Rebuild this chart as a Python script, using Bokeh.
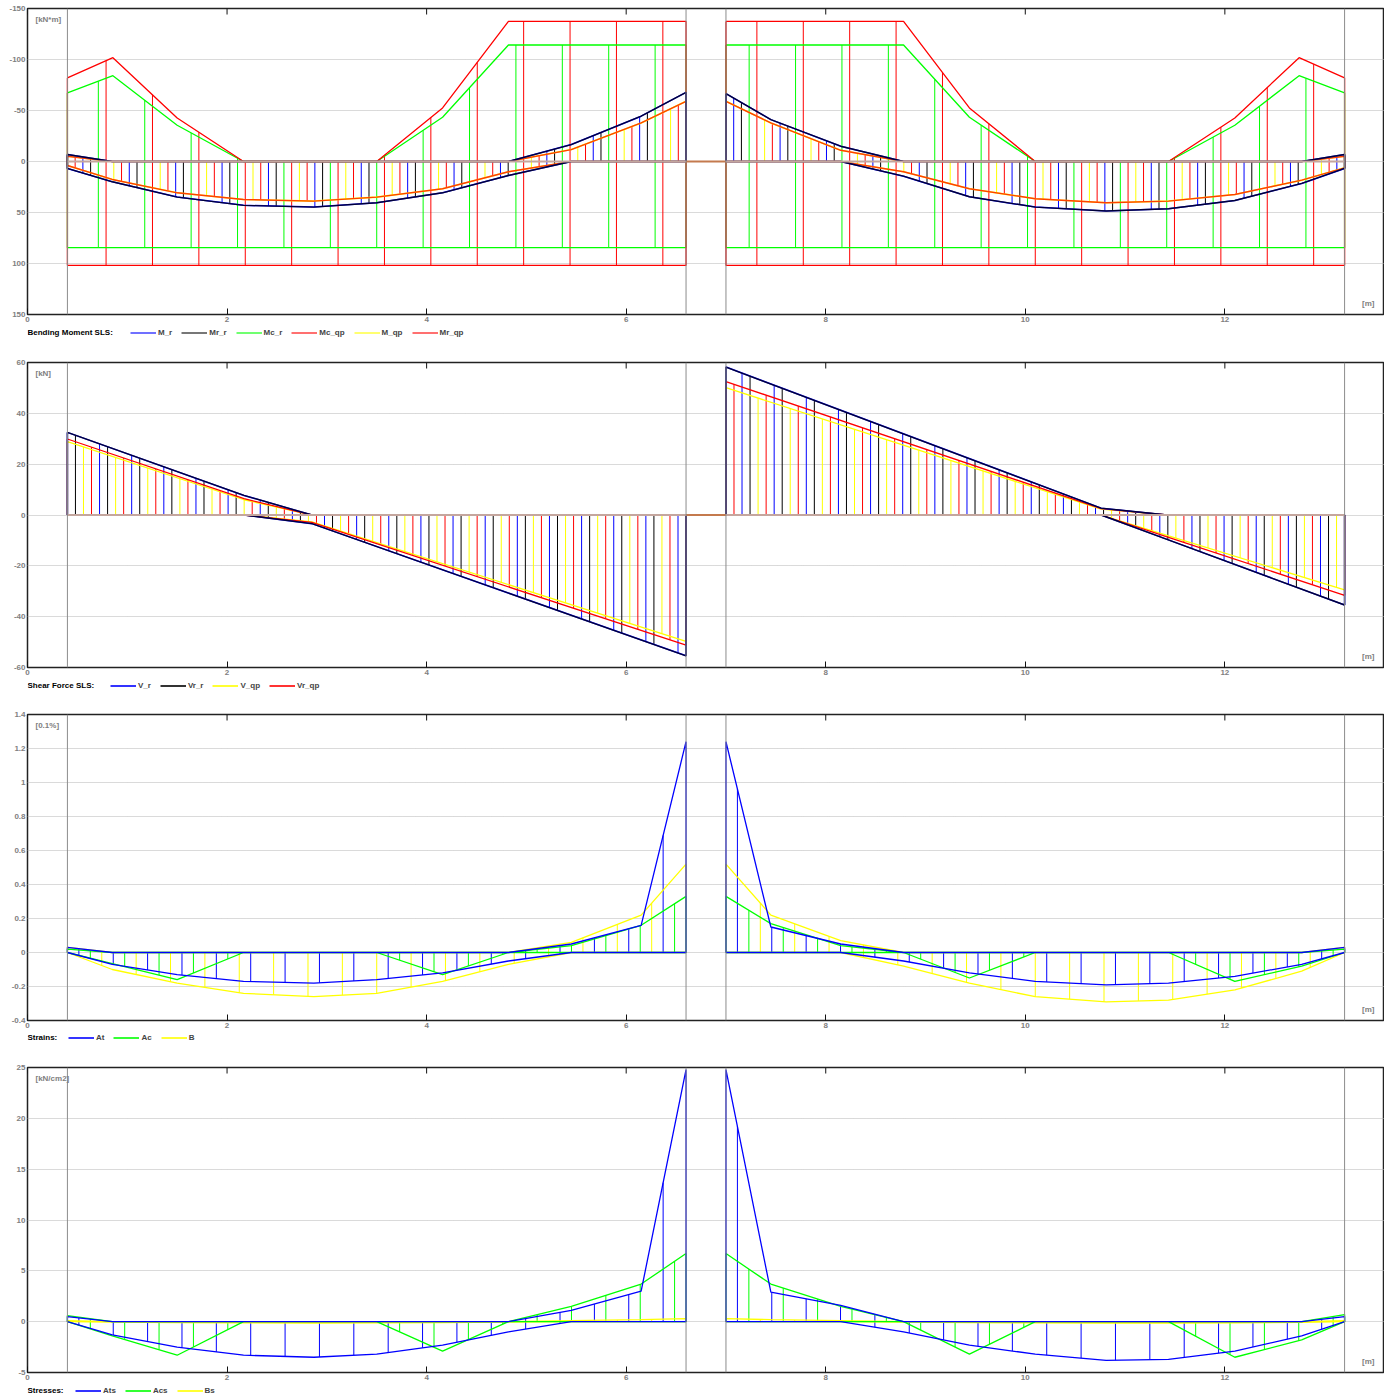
import numpy as np
from bokeh.plotting import figure
from bokeh.models import Range1d, FixedTicker, Legend, LegendItem, Label, Span
from bokeh.layouts import column
from bokeh.embed import file_html
from bokeh.resources import INLINE

FONT = "Liberation Sans"
X_TICKS = [0, 2, 4, 6, 8, 10, 12]
X_TICK_LABELS = ["0", "2", "4", "6", "8", "10", "12"]
SUPPORTS = [0.4, 6.6, 7.0, 13.2]

# ---------------- Panel 1 : bending moment [kN*m] ----------------
M_X1 = [0.4, 0.85, 1.5, 2.165, 2.87, 3.5, 4.16, 4.82, 5.45, 6.15, 6.6]
M_X2 = [7.0, 7.45, 8.15, 8.78, 9.44, 10.1, 10.81, 11.435, 12.1, 12.77, 13.2]
MR_R_MIN1 = [-6.8, 0, 0, 0, 0, 0, 0, 0, -16.6, -44.4, -67.8]
MR_R_MAX1 = [6.8, 19.9, 34.9, 43.0, 44.7, 40.4, 30.7, 13.7, 0, 0, 0]
MR_R_MIN2 = [-66.5, -41.1, -15.0, 0, 0, 0, 0, 0, 0, 0, -6.8]
MR_R_MAX2 = [0, 0, 0, 14.4, 34.6, 44.7, 48.6, 46.3, 38.2, 21.5, 6.8]
MR_QP_MIN1 = [-5.2, 0, 0, 0, 0, 0, 0, 0, -11.7, -37.8, -59.0]
MR_QP_MAX1 = [3.9, 17.6, 30.7, 37.2, 38.8, 34.9, 26.7, 10.1, 0, 0, 0]
MR_QP_MIN2 = [-59.0, -37.8, -11.0, 0, 0, 0, 0, 0, 0, 0, -5.2]
MR_QP_MAX2 = [0, 0, 0, 10.1, 26.7, 36.5, 40.4, 38.8, 32.3, 18.3, 6.2]
MC_X1 = [0.4, 0.856, 1.5, 2.165, 3.5, 4.16, 4.82, 6.6]
MC_X2 = [7.0, 8.78, 9.44, 10.1, 11.435, 12.1, 12.744, 13.2]
MC_R_NEG1 = [-67.2, -84.1, -35.5, 0, 0, -43.4, -114.2, -114.2]
MC_R_NEG2 = [-114.2, -114.2, -43.4, 0, 0, -35.5, -84.1, -67.2]
MC_R_POS = [84.5, 84.5, 84.5, 84.5, 84.5, 84.5, 84.5, 84.5]
MC_QP_NEG1 = [-81.9, -101.8, -42.7, 0, 0, -52.5, -137.3, -137.3]
MC_QP_NEG2 = [-137.3, -137.3, -52.5, 0, 0, -42.7, -101.8, -81.9]
MC_QP_POS = [101.8, 101.8, 101.8, 101.8, 101.8, 101.8, 101.8, 101.8]
M_YTICKS = [-150, -100, -50, 0, 50, 100, 150]
M_YLABELS = ["-150", "-100", "-50", "0", "50", "100", "150"]

# ---------------- Panel 2 : shear force [kN] ----------------
V_X1 = [0.4, 2.17, 2.85, 6.6]
V_X2 = [7.0, 10.76, 11.42, 13.2]
VR_R_POS1 = [32.5, 7.7, 0, 0]
VR_R_NEG1 = [0, 0, -3.4, -55.4]
VR_R_POS2 = [58.2, 2.7, 0, 0]
VR_R_NEG2 = [0, 0, -9.6, -35.4]
VR_QP_POS1 = [29.9, 6.4, 0, 0]
VR_QP_NEG1 = [0, 0, -2.9, -51.2]
VR_QP_POS2 = [52.5, 2.5, 0, 0]
VR_QP_NEG2 = [0, 0, -8.6, -31.6]
V_QP_POS1 = [28.9, 6.0, 0, 0]
V_QP_NEG1 = [0, 0, -2.7, -49.7]
V_QP_POS2 = [50.1, 2.3, 0, 0]
V_QP_NEG2 = [0, 0, -8.0, -29.5]
V_YTICKS = [-60, -40, -20, 0, 20, 40, 60]
V_YLABELS = ["-60", "-40", "-20", "0", "20", "40", "60"]

# ---------------- Panel 3 : strains [0.1%] ----------------
AT_MAX1 = [0.03, 0, 0, 0, 0, 0, 0, 0, 0.05, 0.16, 1.24]
AT_MIN1 = [0, -0.07, -0.13, -0.17, -0.18, -0.16, -0.12, -0.05, 0, 0, 0]
AT_MAX2 = [1.24, 0.15, 0.05, 0, 0, 0, 0, 0, 0, 0, 0.03]
AT_MIN2 = [0, 0, 0, -0.05, -0.12, -0.17, -0.19, -0.18, -0.14, -0.07, 0]
AC_MAX1 = [0.02, 0, 0, 0, 0, 0, 0, 0, 0.04, 0.16, 0.33]
AC_MIN1 = [0, -0.065, -0.16, 0, 0, 0, -0.13, 0, 0, 0, 0]
AC_MAX2 = [0.33, 0.17, 0.04, 0, 0, 0, 0, 0, 0, 0, 0.02]
AC_MIN2 = [0, 0, 0, 0, -0.15, 0, 0, 0, -0.17, -0.08, 0]
B_MAX1 = [0.03, 0, 0, 0, 0, 0, 0, 0, 0.06, 0.22, 0.52]
B_MIN1 = [0, -0.1, -0.18, -0.24, -0.26, -0.24, -0.17, -0.07, 0, 0, 0]
B_MAX2 = [0.52, 0.22, 0.07, 0, 0, 0, 0, 0, 0, 0, 0.03]
B_MIN2 = [0, 0, 0, -0.08, -0.18, -0.26, -0.29, -0.28, -0.22, -0.11, 0]
E_YTICKS = [-0.4, -0.2, 0, 0.2, 0.4, 0.6, 0.8, 1, 1.2, 1.4]
E_YLABELS = ["-0.4", "-0.2", "0", "0.2", "0.4", "0.6", "0.8", "1", "1.2", "1.4"]

# ---------------- Panel 4 : stresses [kN/cm2] ----------------
ATS_MAX1 = [0.5, 0, 0, 0, 0, 0, 0, 0, 1.1, 3.0, 24.8]
ATS_MIN1 = [0, -1.3, -2.5, -3.3, -3.5, -3.2, -2.3, -1.0, 0, 0, 0]
ATS_MAX2 = [24.8, 2.9, 1.6, 0, 0, 0, 0, 0, 0, 0, 0.5]
ATS_MIN2 = [0, 0, 0, -1.0, -2.3, -3.2, -3.8, -3.7, -2.9, -1.4, 0]
ACS_MAX1 = [0.6, 0, 0, 0, 0, 0, 0, 0, 1.5, 3.7, 6.7]
ACS_MIN1 = [0, -1.4, -3.3, 0, 0, 0, -2.9, 0, 0, 0, 0]
ACS_MAX2 = [6.7, 3.7, 1.5, 0, 0, 0, 0, 0, 0, 0, 0.7]
ACS_MIN2 = [0, 0, 0, 0, -3.2, 0, 0, 0, -3.5, -1.8, 0]
BS_MAX1 = [0.1, 0, 0, 0, 0, 0, 0, 0, 0.1, 0.2, 0.3]
BS_MIN1 = [0, -0.05, -0.1, -0.12, -0.13, -0.12, -0.1, -0.05, 0, 0, 0]
BS_MAX2 = [0.3, 0.2, 0.1, 0, 0, 0, 0, 0, 0, 0, 0.1]
BS_MIN2 = [0, 0, 0, -0.05, -0.1, -0.12, -0.13, -0.13, -0.12, -0.06, 0]
S_YTICKS = [-5, 0, 5, 10, 15, 20, 25]
S_YLABELS = ["-5", "0", "5", "10", "15", "20", "25"]

GREY = "#808080"
W = 1384
LEFT = 27


def make_fig(height, top, bottom, yr, yticks, ylabels):
    p = figure(width=W, height=height, x_range=Range1d(0, 13.6), y_range=Range1d(*yr),
               output_backend="svg", toolbar_location=None,
               min_border_left=LEFT, min_border_right=0, min_border_top=top, min_border_bottom=bottom)
    p.outline_line_color = "#222222"
    p.outline_line_width = 1.5
    xa = p.xaxis[0]
    xa.ticker = FixedTicker(ticks=X_TICKS)
    xa.major_label_overrides = dict(zip(X_TICKS, X_TICK_LABELS))
    xa.major_tick_in = 6
    xa.major_tick_out = 0
    xa.minor_tick_in = 0
    xa.minor_tick_out = 0
    xa.axis_line_color = None
    xa.major_tick_line_color = "#111111"
    xa.major_label_text_font = FONT
    xa.major_label_text_font_size = "8px"
    xa.major_label_text_font_style = "bold"
    xa.major_label_text_color = GREY
    xa.major_label_standoff = 2
    # inward ticks on the top edge
    p.ray(x=X_TICKS, y=[yr[1]] * len(X_TICKS), length=6, length_units="screen",
          angle=-np.pi / 2, line_color="#111111", line_width=1)
    ya = p.yaxis[0]
    yt = FixedTicker(ticks=yticks)
    ya.ticker = yt
    ya.major_label_overrides = dict(zip(yticks, ylabels))
    ya.major_tick_in = 0
    ya.major_tick_out = 0
    ya.minor_tick_in = 0
    ya.minor_tick_out = 0
    ya.axis_line_color = None
    ya.major_label_text_font = FONT
    ya.major_label_text_font_size = "8px"
    ya.major_label_text_font_style = "bold"
    ya.major_label_text_color = GREY
    ya.major_label_standoff = 2
    p.xgrid.visible = False
    p.ygrid.ticker = yt
    p.ygrid.grid_line_color = "#b4b4b4"
    p.ygrid.grid_line_dash = "1 1"
    for s in SUPPORTS:
        p.add_layout(Span(location=s, dimension="height", line_color="#8c8c8c", line_width=1))
    return p


def closed(xs, a, b):
    xs = list(xs)
    return xs + xs[::-1] + [xs[0]], list(a) + list(b)[::-1] + [a[0]]


def hatch(p, spans, order, phases, series, n):
    x0, y0, y1, cols = [], [], [], []
    for si, ((a, b), ph) in enumerate(zip(spans, phases)):
        for k in range(1, n):
            xk = a + k * (b - a) / n
            name = order[(k + ph) % len(order)]
            sx, lo, hi, col = series[name][si]
            x0.append(xk)
            y0.append(float(np.interp(xk, sx, lo)))
            y1.append(float(np.interp(xk, sx, hi)))
            cols.append(col)
    p.segment(x0=x0, y0=y0, x1=x0, y1=y1, line_color=cols, line_width=1)


def units(p, unit, top_v, bot_v):
    p.add_layout(Label(x=0.08, y=top_v, y_offset=-6, text=unit, text_font=FONT, text_font_size="8px",
                       text_font_style="bold", text_color=GREY, text_baseline="top"))
    p.add_layout(Label(x=13.5, y=bot_v, y_offset=7, text="[m]", text_font=FONT, text_font_size="8px",
                       text_font_style="bold", text_color=GREY, text_baseline="bottom", text_align="right"))


def strip(height, title, items, gx, d):
    """legend row below a panel: title + horizontal legend; gx = page x of first swatch,
    d = text centre measured from the strip top"""
    s = figure(width=W, height=height, x_range=Range1d(LEFT, W), y_range=Range1d(0, height),
               output_backend="svg", toolbar_location=None, min_border_left=LEFT,
               min_border_right=0, min_border_top=0, min_border_bottom=0,
               x_axis_type=None, y_axis_type=None)
    s.outline_line_color = None
    s.grid.visible = False
    s.add_layout(Label(x=LEFT, y=height - d, text=title, text_font=FONT, text_font_size="8px",
                       text_font_style="bold", text_color="black", text_baseline="middle"))
    lit = []
    for lab, col in items:
        r = s.line(x=[-20, -10], y=[-20, -20], line_color=col, line_width=1.6)
        lit.append(LegendItem(label=lab, renderers=[r]))
    lg = Legend(items=lit, orientation="horizontal", location=(gx - LEFT, height - d - 4.5),
                padding=0, margin=0, spacing=9, label_standoff=2, label_width=0,
                glyph_width=26, glyph_height=9, label_height=9,
                label_text_font=FONT, label_text_font_size="8px", label_text_font_style="bold",
                border_line_alpha=0, background_fill_alpha=0)
    s.add_layout(lg)
    return s


SP = [(SUPPORTS[0], SUPPORTS[1]), (SUPPORTS[2], SUPPORTS[3])]

# ================= Figure 1 =================
p1 = make_fig(327, 8, 13, (150, -150), M_YTICKS, M_YLABELS)
ser1 = {
    "M_r": [(M_X1, MR_R_MIN1, MR_R_MAX1, "blue"), (M_X2, MR_R_MIN2, MR_R_MAX2, "blue")],
    "Mr_r": [(M_X1, MR_R_MIN1, MR_R_MAX1, "black"), (M_X2, MR_R_MIN2, MR_R_MAX2, "black")],
    "Mc_r": [(MC_X1, MC_R_NEG1, MC_R_POS, "lime"), (MC_X2, MC_R_NEG2, MC_R_POS, "lime")],
    "Mc_qp": [(MC_X1, MC_QP_NEG1, MC_QP_POS, "red"), (MC_X2, MC_QP_NEG2, MC_QP_POS, "red")],
    "M_qp": [(M_X1, MR_QP_MIN1, MR_QP_MAX1, "yellow"), (M_X2, MR_QP_MIN2, MR_QP_MAX2, "yellow")],
    "Mr_qp": [(M_X1, MR_QP_MIN1, MR_QP_MAX1, "red"), (M_X2, MR_QP_MIN2, MR_QP_MAX2, "red")],
}
hatch(p1, SP, ["M_qp", "Mr_qp", "M_r", "Mr_r", "Mc_r", "Mc_qp"], [0, 1], ser1, 80)
for name, w, a in [("Mc_r", 1.3, 1), ("Mc_qp", 1.3, 1), ("M_qp", 1.6, 1), ("Mr_qp", 1.4, 0.75),
                   ("M_r", 1.5, 1), ("Mr_r", 1.4, 0.78)]:
    for sx, lo, hi, col in ser1[name]:
        xs, ys = closed(sx, lo, hi)
        p1.line(xs, ys, line_color=col, line_width=w, line_alpha=a)
p1.segment(x0=SUPPORTS[:3], x1=SUPPORTS[1:], y0=[0, 0, 0], y1=[0, 0, 0],
           line_color=["#c4a69e", "#c47a4e", "#c4a69e"], line_width=2.2)
units(p1, "[kN*m]", -150, 150)
s1 = strip(22, "Bending Moment SLS:", [("M_r", "#4d4dff"), ("Mr_r", "#555555"), ("Mc_r", "#4dff4d"),
                                        ("Mc_qp", "#ff4d4d"), ("M_qp", "#ffff4d"), ("Mr_qp", "#ff4d4d")], 130, 5)

# ================= Figure 2 =================
p2 = make_fig(331, 13, 13, (-60, 60), V_YTICKS, V_YLABELS)
ser2 = {
    "V_r": [(V_X1, VR_R_NEG1, VR_R_POS1, "blue"), (V_X2, VR_R_NEG2, VR_R_POS2, "blue")],
    "Vr_r": [(V_X1, VR_R_NEG1, VR_R_POS1, "black"), (V_X2, VR_R_NEG2, VR_R_POS2, "black")],
    "V_qp": [(V_X1, V_QP_NEG1, V_QP_POS1, "yellow"), (V_X2, V_QP_NEG2, V_QP_POS2, "yellow")],
    "Vr_qp": [(V_X1, VR_QP_NEG1, VR_QP_POS1, "red"), (V_X2, VR_QP_NEG2, VR_QP_POS2, "red")],
}
hatch(p2, SP, ["V_r", "Vr_r", "V_qp", "Vr_qp"], [0, 2], ser2, 77)
for name, w, a in [("V_qp", 1.3, 1), ("Vr_qp", 1.3, 1), ("V_r", 1.5, 1), ("Vr_r", 1.4, 0.78)]:
    for sx, lo, hi, col in ser2[name]:
        xs, ys = closed(sx, lo, hi)
        p2.line(xs, ys, line_color=col, line_width=w, line_alpha=a)
p2.segment(x0=SUPPORTS[:3], x1=SUPPORTS[1:], y0=[0, 0, 0], y1=[0, 0, 0],
           line_color=["#c4a69e", "#c47a4e", "#c4a69e"], line_width=2.2)
units(p2, "[kN]", 60, -60)
s2 = strip(21, "Shear Force SLS:", [("V_r", "blue"), ("Vr_r", "black"), ("V_qp", "yellow"),
                                     ("Vr_qp", "red")], 110, 5)


def strain_fig(height, top, bottom, yr, yticks, ylabels, data, names, unit):
    p = make_fig(height, top, bottom, yr, yticks, ylabels)
    cols = ["blue", "lime", "yellow"]
    ser = {}
    for n, c, (mn1, mx1, mn2, mx2) in zip(names, cols, data):
        ser[n] = [(M_X1, mn1, mx1, c), (M_X2, mn2, mx2, c)]
    hatch(p, SP, [names[2], names[0], names[1]], [0, 0], ser, 54)
    for n in [names[2], names[1], names[0]]:
        for sx, lo, hi, col in ser[n]:
            xs, ys = closed(sx, lo, hi)
            p.line(xs, ys, line_color=col, line_width=1.3)
    units(p, unit, yr[1], yr[0])
    return p


p3 = strain_fig(332, 13, 13, (-0.4, 1.4), E_YTICKS, E_YLABELS,
                [(AT_MIN1, AT_MAX1, AT_MIN2, AT_MAX2), (AC_MIN1, AC_MAX1, AC_MIN2, AC_MAX2),
                 (B_MIN1, B_MAX1, B_MIN2, B_MAX2)],
                ["At", "Ac", "B"], "[0.1%]")
s3 = strip(21, "Strains:", [("At", "blue"), ("Ac", "lime"), ("B", "yellow")], 68, 4)
p4 = strain_fig(331, 13, 13, (-5, 25), S_YTICKS, S_YLABELS,
                [(ATS_MIN1, ATS_MAX1, ATS_MIN2, ATS_MAX2), (ACS_MIN1, ACS_MAX1, ACS_MIN2, ACS_MAX2),
                 (BS_MIN1, BS_MAX1, BS_MIN2, BS_MAX2)],
                ["Ats", "Acs", "Bs"], "[kN/cm2]")
s4 = strip(13, "Stresses:", [("Ats", "blue"), ("Acs", "lime"), ("Bs", "yellow")], 75, 5)

layout = column(p1, s1, p2, s2, p3, s3, p4, s4, spacing=0)
open("out.html", "w").write(file_html(layout, INLINE))
